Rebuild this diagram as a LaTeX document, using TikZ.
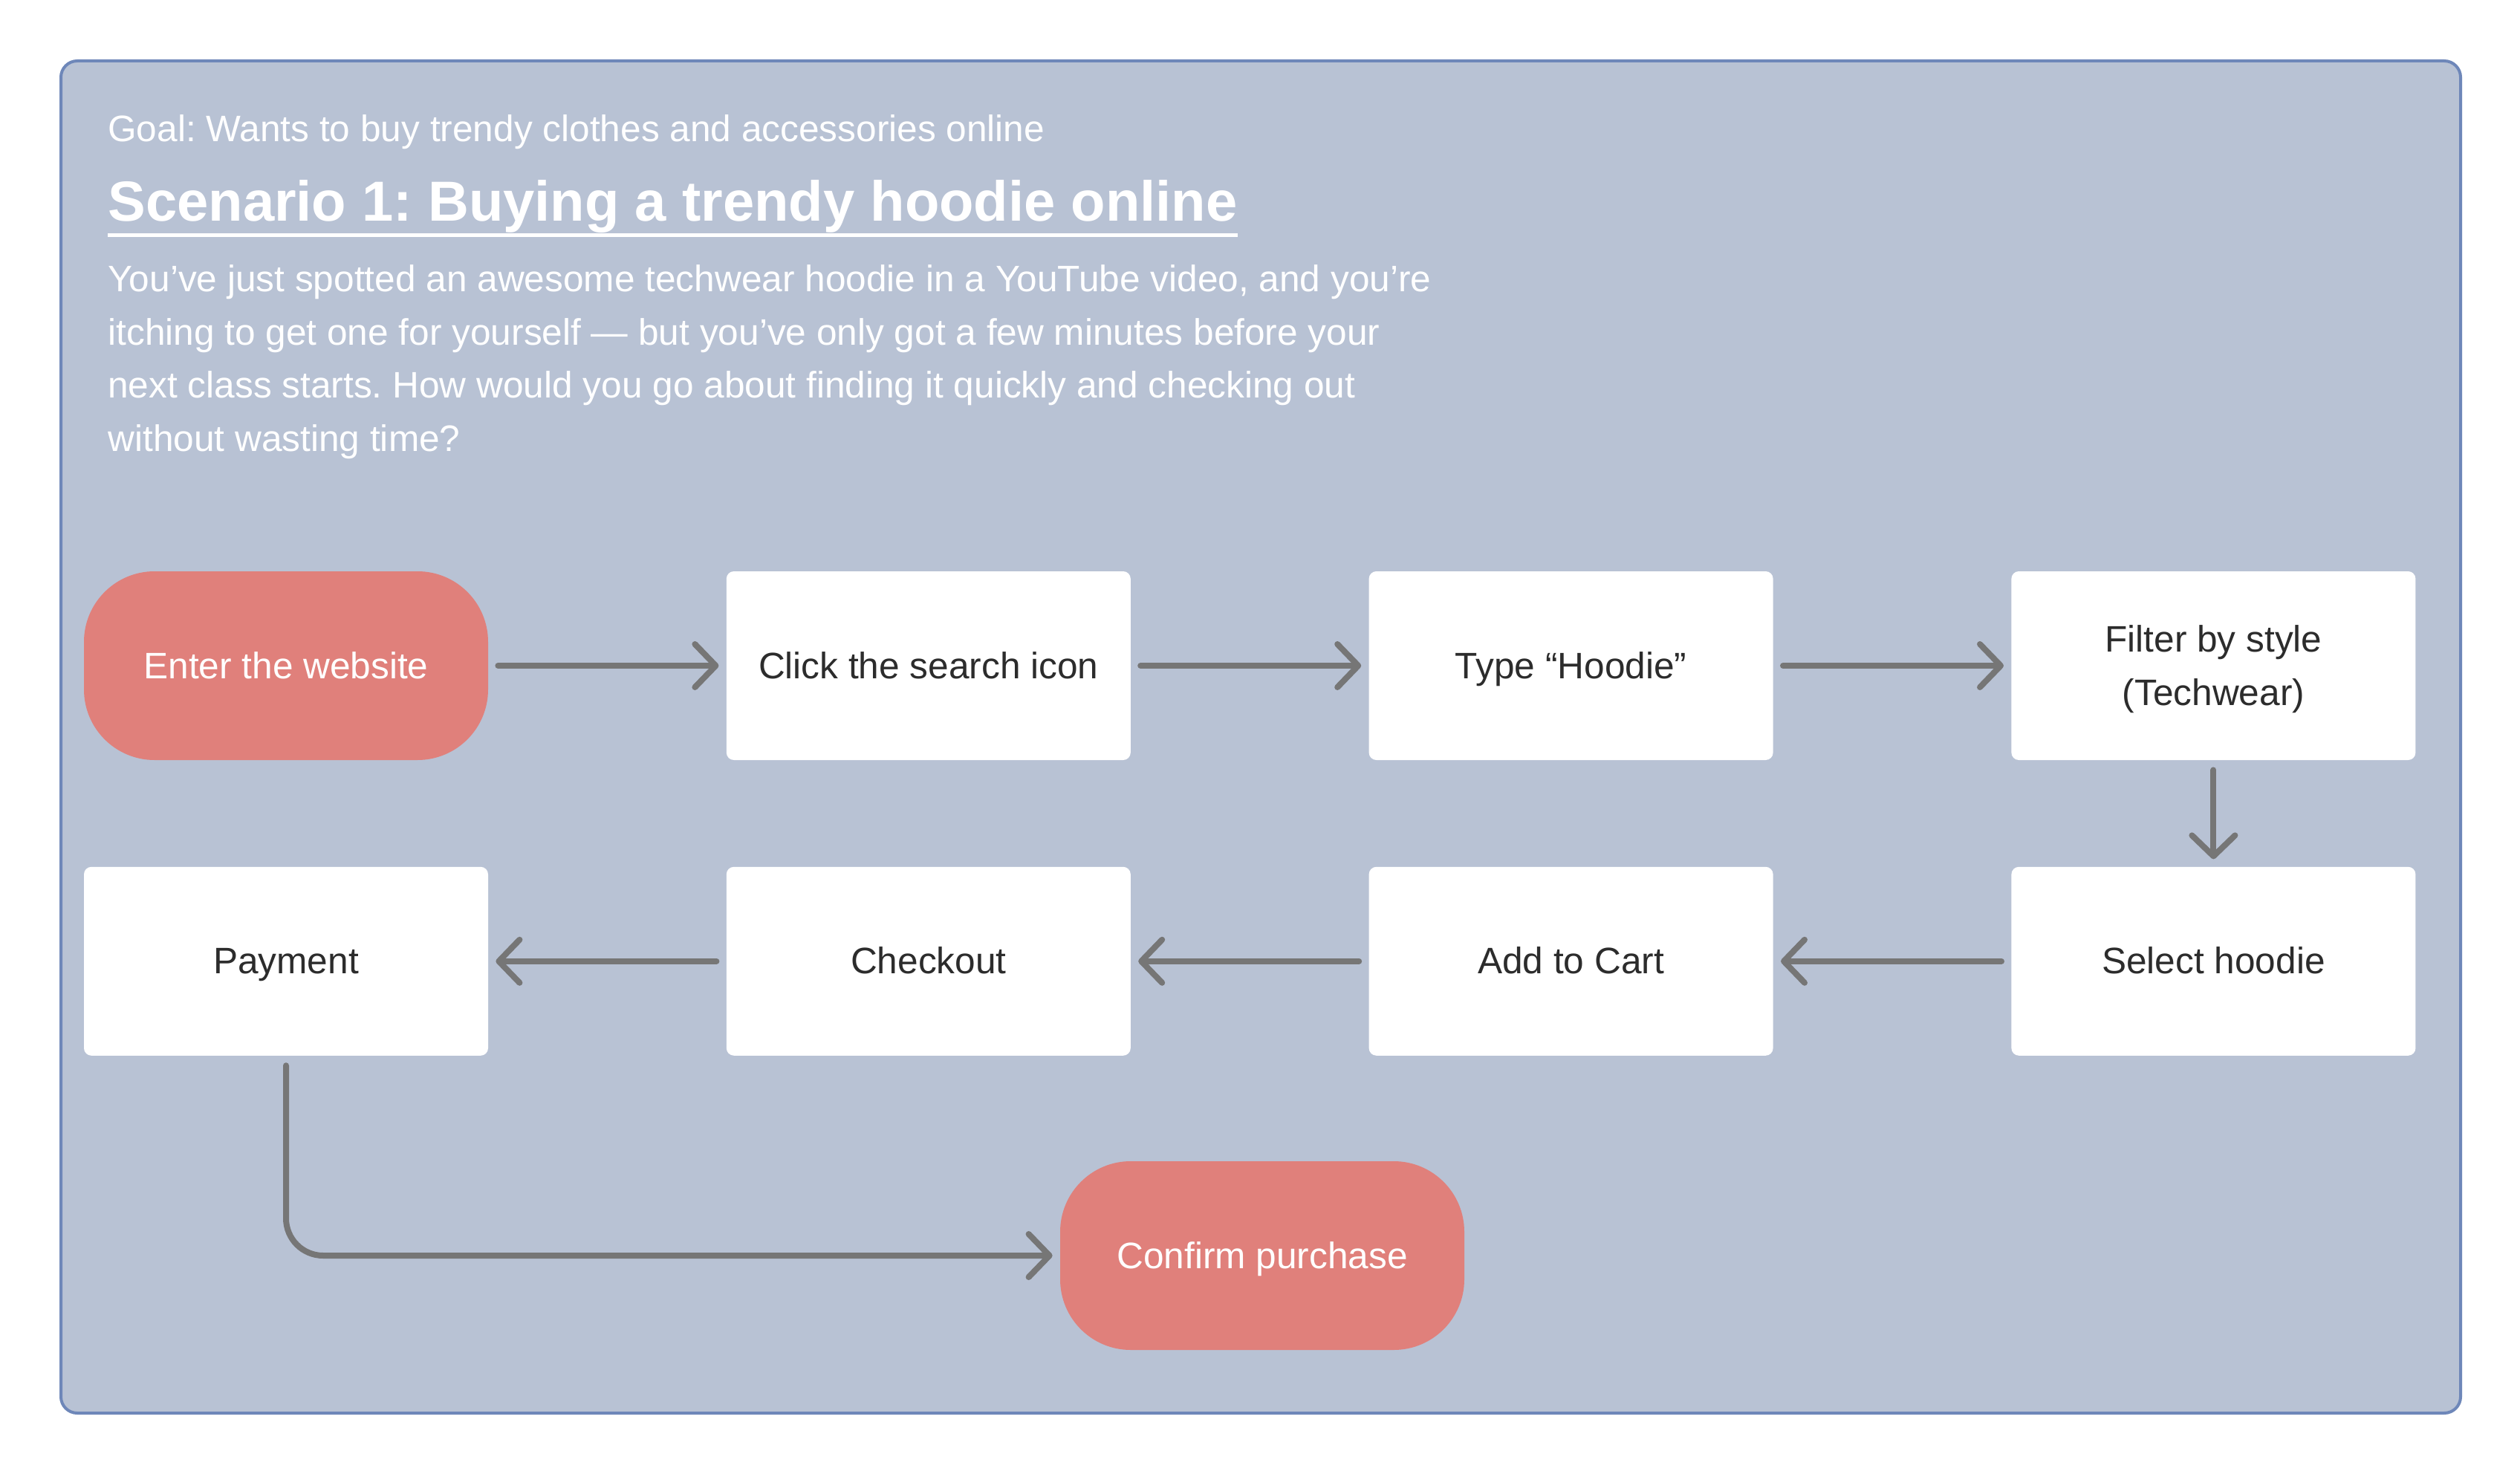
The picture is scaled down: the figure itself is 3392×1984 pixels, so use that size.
\documentclass[tikz,border=0pt]{standalone}
\usepackage{fontspec}
\setmainfont{Liberation Sans}
\frenchspacing
\usetikzlibrary{positioning,chains,arrows.meta}

\definecolor{panelfill}{HTML}{B8C2D4}
\definecolor{panelline}{HTML}{6E87B9}
\definecolor{pillred}{HTML}{E0807B}
\definecolor{flowgray}{HTML}{767676}
\definecolor{inkdark}{HTML}{2C2C2C}

\tikzset{
  stepbox/.style={rectangle,fill=white,rounded corners=5pt,minimum width=272pt,minimum height=127pt,
    text=inkdark,align=center,text height=18pt,text depth=1pt,font=\fontsize{24.8pt}{36pt}\selectfont},
  endbox/.style={stepbox,fill=pillred,text=white,rounded corners=47.5pt},
  flow/.style={draw=flowgray,line width=4pt,line cap=round,
    -{Straight Barb[length=14pt,width=29pt,round]},shorten <=6.5pt,shorten >=5pt},
  headtext/.style={text=white,inner sep=0pt,font=\fontsize{24.8pt}{35.75pt}\selectfont},
  titletext/.style={text=white,inner sep=0pt,font=\bfseries\fontsize{38pt}{46pt}\selectfont}
}

\begin{document}
\begin{tikzpicture}[x=0.5pt,y=-0.5pt]
\useasboundingbox (0,0) rectangle (3392,1984);
\fill[white] (0,0) rectangle (3392,1984);
\draw[panelline,fill=panelfill,line width=2pt,rounded corners=11pt] (82,82) rectangle (3312,1902);

% header
\node[headtext,anchor=base west] (goal) at (145,191) {Goal: Wants to buy trendy clothes and accessories online};
\node[titletext,anchor=base west] (title) at (145,298) {Scenario 1: Buying a trendy hoodie online};
\draw[white,line width=2.5pt] ([yshift=-1pt]title.south west) -- ([yshift=-1pt]title.south east);
% base anchor sits on the last line here
\node[headtext,anchor=base west,align=left] (story) at (145,607) {You’ve just spotted an awesome techwear hoodie in a YouTube video, and you’re\\
itching to get one for yourself — but you’ve only got a few minutes before your\\
next class starts. How would you go about finding it quickly and checking out\\
without wasting time?};

% flow
\begin{scope}[start chain=going right,node distance=71.5pt and 160pt,every join/.style=flow]
\node[endbox,on chain] (enter) at (385,896) {Enter the website};
\node[stepbox,on chain,join] (search) {Click the search icon};
\node[stepbox,on chain,join] (type) {Type “Hoodie”};
\node[stepbox,on chain,join,text height=54pt] (filter) {Filter by style\\(Techwear)};
\node[stepbox,continue chain=going below,on chain,join] (select) {Select hoodie};
\begin{scope}[continue chain=going left]
\node[stepbox,on chain,join] (cart) {Add to Cart};
\node[stepbox,on chain,join] (checkout) {Checkout};
\node[stepbox,on chain,join] (payment) {Payment};
\end{scope}
\end{scope}

\node[endbox] (confirm) at (1699,1690) {Confirm purchase};
\draw[flow,rounded corners=25pt] (payment.south) |- (confirm.west);

\end{tikzpicture}
\end{document}
